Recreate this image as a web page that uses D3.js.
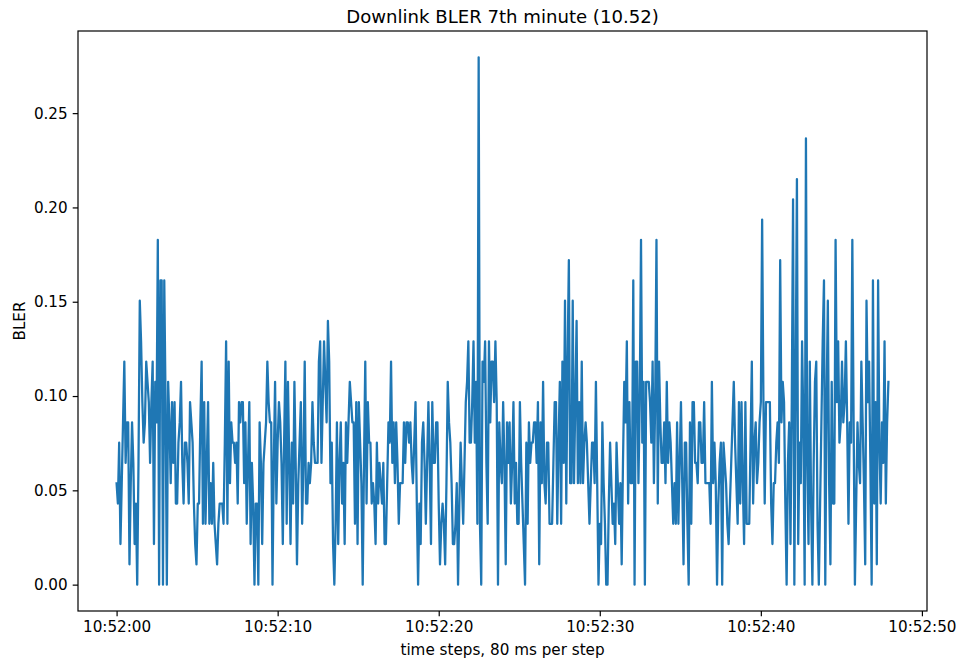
<!DOCTYPE html>
<html>
<head>
<meta charset="utf-8">
<script src="https://cdn.jsdelivr.net/npm/d3@7"></script>
<style>
  body { margin: 0; background: #fff; }
  svg { display: block; }
  text { font-family: "DejaVu Sans", sans-serif; fill: #000; }
</style>
</head>
<body>
<svg id="chart" width="962" height="662"></svg>
<script>
// Downlink transport blocks per 80 ms step and how many of them failed.
const BLOCKS_PER_STEP = 93;
const STEP_MS = 80;
const START_TIME = "2000-01-01T10:52:00";

const failedBlocks = [
  5,4,7,2,5,8,11,6,8,8, 1,5,8,6,2,4,0,6,14,12, 9,7,8,11,10,9,6,9,11,2,
  10,8,17,0,15,15,0,15,9,0, 10,8,5,9,
  6,9,4,4,7,8, 10,6,4,7,7,6,4,9,8,7, 4,2,1,4,4,8,11,3,9,3,
  6,9,3,5,3,6,3,2,1,3, 4,4,4,3,7,12,3,11,5,8, 7,7,6,7,4,9,8,
  9,9,5, 8,3,6,9,2,6,4,0,4,4, 0,8,6,2,6,7,8,11,9,8,
  8,0,6,10,4,7,9,8,6,2, 7,11,3,10,6,2,7,4,10,6, 1,5,7,9,3,6,11,4,
  4,6, 5,6,9,7,6,6,6,11,12,6, 9,12,10,8,13,11,5,7,2,0,
  3,8,2,6,8,4,6,2,8,6, 8,10,9,8,8,3,9,2,9,7, 5,0,6,11,4,9,7,7,4,
  5, 4,2,7,4,6,5,4,6,2,2, 5,8,7,11,6,8,5,8,6,3, 5,5,5,8,6,8,8,7,8,6,
  5,7,9,4,0,4,2,7,8,6, 3,6,9,6,2,9,6,6,8,8, 4,
  1,3,4,3,1,5,10,8,7, 5,2,2,3,5,0,4,7,5,3, 6,9,10,12,7,7,9,12,7,10,
  3,26,3,0,11,10,12,6,3,12, 8,11,11,9,12,9,0,8,6,5, 9,6,
  1,8,6,8,4,6,9,4, 6,3,3,9,6,4,2,0,7,3, 8,6,7,7,8,8,6,9,1,8,
  5,10,5,4,7,7,3,3,3,6, 9,9,3,7,10,3,11,6,14,4, 11,16,5,
  5,14,5,9,13,5,9, 5,11,5,7,8,7,5,3,5,7, 7,5,10,5,0,3,2,8,5,3,
  0,0,4,7,5,3,4,2,7,5, 3,5,1,6,10,8,12,4,9,5, 5,15,0,11,
  11,5,9,17,7,10, 0,10,10,10,9,7,11,5,9,17, 4,11,8,6,6,8,5,10,6,8,
  7,5,3,5,3,8,3,6,9,5, 1,7,7,3,0,8,3,9,9,6, 6,5,8,8,6,
  6,9,5,5,5, 5,3,10,5,7,5,0,4,6,7, 0,7,6,5,3,2,4,6,8,10,
  7,5,3,9,4,9,5,2,9,3, 3,3,7,11,4,7,8,5,6,8, 9,18,9,4,9,9,
  9,9,4,2, 5,5,7,8,6,16,8,10,9,4, 0,6,8,2,9,19,0,10,20,2,
  7,5,12,8,0,22,6,2,11,4, 0,6,10,11,3,0,4,8,12,15, 0,9,14,5,1,10,4,
  4,17,9, 12,7,8,11,8,9,12,8,3,8, 7,17,8,0,4,8,6,5,11,8,
  5,1,14,9,11,6,0,15,4,9, 1,15,7,4,8,6,12,4,8,10
];

const yTickValues = [0, 0.05, 0.10, 0.15, 0.20, 0.25];
const xTickSeconds = [0, 10, 20, 30, 40, 50];

const TITLE = "Downlink BLER 7th minute (10.52)";
const X_LABEL = "time steps, 80 ms per step";
const Y_LABEL = "BLER";

// ---- build the series ----
const t0 = new Date(START_TIME);
const series = failedBlocks.map((n, i) => ({
  t: new Date(t0.getTime() + i * STEP_MS),
  v: n / BLOCKS_PER_STEP
}));

// ---- layout ----
const svg = d3.select("#chart");
const plot = { left: 78, right: 927, top: 31, bottom: 611 };

function padded(ext, frac) {
  const a = +ext[0], b = +ext[1], m = (b - a) * frac;
  return [a - m, b + m];
}

const xExt = padded(d3.extent(series, d => d.t), 0.05);
const yExt = padded(d3.extent(series, d => d.v), 0.05);

const x = d3.scaleTime()
  .domain([new Date(xExt[0]), new Date(xExt[1])])
  .range([plot.left, plot.right]);
const y = d3.scaleLinear()
  .domain(yExt)
  .range([plot.bottom, plot.top]);

const fontPx = 15.2;
const titlePx = 18.1;
const tickLen = 5.3;
const tickPad = 5.0;

// ---- data line ----
svg.append("path")
  .datum(series)
  .attr("fill", "none")
  .attr("stroke", "#1f77b4")
  .attr("stroke-width", 2.27)
  .attr("stroke-linejoin", "round")
  .attr("stroke-linecap", "square")
  .attr("d", d3.line().x(d => x(d.t)).y(d => y(d.v)));

// ---- axes ----
const fmtTime = d3.timeFormat("%H:%M:%S");
const xAxis = d3.axisBottom(x)
  .tickValues(xTickSeconds.map(s => new Date(t0.getTime() + s * 1000)))
  .tickFormat(fmtTime)
  .tickSizeInner(tickLen)
  .tickSizeOuter(0)
  .tickPadding(tickPad);

const yAxis = d3.axisLeft(y)
  .tickValues(yTickValues)
  .tickFormat(d3.format(".2f"))
  .tickSizeInner(tickLen)
  .tickSizeOuter(0)
  .tickPadding(tickPad);

const gx = svg.append("g")
  .attr("transform", `translate(0,${plot.bottom})`)
  .call(xAxis);
const gy = svg.append("g")
  .attr("transform", `translate(${plot.left},0)`)
  .call(yAxis);

[gx, gy].forEach(g => {
  g.select(".domain").remove();
  g.selectAll(".tick line").attr("stroke", "#000").attr("stroke-width", 1.2);
  g.selectAll(".tick text")
    .attr("font-family", "DejaVu Sans, sans-serif")
    .attr("font-size", fontPx)
    .attr("fill", "#000");
});

// ---- frame ----
svg.append("rect")
  .attr("x", plot.left)
  .attr("y", plot.top)
  .attr("width", plot.right - plot.left)
  .attr("height", plot.bottom - plot.top)
  .attr("fill", "none")
  .attr("stroke", "#000")
  .attr("stroke-width", 1.2);

// ---- labels ----
svg.append("text")
  .attr("x", (plot.left + plot.right) / 2)
  .attr("y", 23)
  .attr("text-anchor", "middle")
  .attr("font-size", titlePx)
  .text(TITLE);

svg.append("text")
  .attr("x", (plot.left + plot.right) / 2)
  .attr("y", 655)
  .attr("text-anchor", "middle")
  .attr("font-size", fontPx)
  .text(X_LABEL);

svg.append("text")
  .attr("transform", `translate(25,${(plot.top + plot.bottom) / 2}) rotate(-90)`)
  .attr("text-anchor", "middle")
  .attr("font-size", fontPx)
  .text(Y_LABEL);
</script>
</body>
</html>
